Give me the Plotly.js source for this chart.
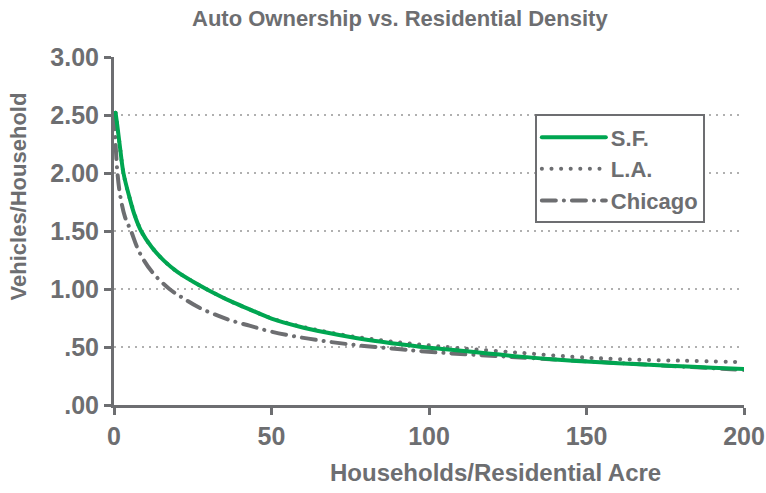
<!DOCTYPE html>
<html>
<head>
<meta charset="utf-8">
<script src="https://cdn.plot.ly/plotly-3.0.1.min.js"></script>
<style>
html,body{margin:0;padding:0;background:#fff;}
#chart{width:766px;height:493px;}
#chart .js-line{stroke-linecap:round;}
</style>
</head>
<body>
<div id="chart"></div>
<script>
// Data
const sfX = [0.5, 1, 2, 3, 5, 6.5, 8.6, 12, 16, 20, 25, 30, 37, 43, 50, 59, 67, 75, 83, 91, 97, 107, 118, 129, 140, 150, 160, 170, 180, 190, 200];
const sfY = [2.52, 2.42, 2.2, 2.0, 1.78, 1.64, 1.5, 1.36, 1.24, 1.15, 1.065, 0.99, 0.895, 0.825, 0.745, 0.675, 0.627, 0.586, 0.552, 0.523, 0.503, 0.477, 0.447, 0.417, 0.393, 0.374, 0.359, 0.346, 0.334, 0.322, 0.311];

const laX = [0.5, 1, 2, 3, 5, 8.6, 12, 16, 20, 25, 30, 37, 43, 50, 59, 67, 75, 83, 91, 97, 110, 129, 146, 160, 180, 200];
const laY = [2.52, 2.42, 2.2, 2.0, 1.78, 1.5, 1.36, 1.24, 1.15, 1.065, 0.99, 0.895, 0.825, 0.747, 0.679, 0.633, 0.594, 0.564, 0.538, 0.522, 0.49, 0.45, 0.415, 0.396, 0.382, 0.37];

const chX = [0.1, 0.5, 1.1, 2, 3.5, 5.4, 8, 12, 17.6, 22, 27, 33, 37, 43, 50, 59, 67, 75, 83, 91, 97, 107, 118, 129, 146, 160, 180, 200];
const chY = [2.5, 2.25, 2.0, 1.8, 1.62, 1.5, 1.32, 1.15, 1.0, 0.92, 0.84, 0.77, 0.73, 0.684, 0.632, 0.584, 0.55, 0.522, 0.5, 0.48, 0.465, 0.445, 0.427, 0.41, 0.383, 0.362, 0.332, 0.302];

const yTickVals = [0, 0.5, 1, 1.5, 2, 2.5, 3];
const yTickText = ['.00', '.50', '1.00', '1.50', '2.00', '2.50', '3.00'];
const xTickVals = [0, 50, 100, 150, 200];
const xTickText = ['0', '50', '100', '150', '200'];

const GRAY = '#6d6e71';
const FONT = '"Liberation Sans", Arial, sans-serif';

const traces = [
  {x: laX, y: laY, name: 'L.A.', mode: 'lines', line: {color: GRAY, width: 4, dash: '0.1px,9.5px', shape: 'spline'}, legendrank: 2},
  {x: chX, y: chY, name: 'Chicago', mode: 'lines', line: {color: GRAY, width: 4, dash: '14px,8px,0.1px,8px', shape: 'spline'}, legendrank: 3},
  {x: sfX, y: sfY, name: 'S.F.', mode: 'lines', line: {color: '#00a651', width: 4, shape: 'spline'}, legendrank: 1}
];

const layout = {
  width: 766, height: 493,
  margin: {l: 114, r: 22, t: 57, b: 88},
  paper_bgcolor: '#fff', plot_bgcolor: '#fff',
  font: {family: FONT, color: GRAY, size: 20, weight: 'bold'},
  title: {text: '<b>Auto Ownership vs. Residential Density</b>', x: 0.522, xref: 'container', xanchor: 'center', y: 1 - 18/493, yref: 'container', yanchor: 'middle', font: {family: FONT, size: 22, color: GRAY, weight: 'bold'}},
  showlegend: true,
  legend: {x: 0.668, y: 0.835, xanchor: 'left', yanchor: 'top', bgcolor: '#fff', bordercolor: GRAY, borderwidth: 2, font: {family: FONT, size: 22, color: GRAY, weight: 'bold'}, traceorder: 'normal', tracegroupgap: 0, itemwidth: 64},
  xaxis: {
    range: [0, 200], tickvals: xTickVals, ticktext: xTickText, ticklabeloverflow: 'allow',
    showline: true, linecolor: GRAY, linewidth: 3, ticks: 'outside', ticklen: 7, tickwidth: 3, tickcolor: GRAY,
    showgrid: false, zeroline: false, tickfont: {family: FONT, size: 25, color: GRAY, weight: 'bold'}, fixedrange: true
  },
  yaxis: {
    range: [0, 3], tickvals: yTickVals, ticktext: yTickText,
    showline: true, linecolor: GRAY, linewidth: 3, ticks: 'outside', ticklen: 7, tickwidth: 3, tickcolor: GRAY,
    showgrid: true, gridcolor: '#b0b0b0', gridwidth: 2, griddash: '2px,5px', zeroline: false,
    tickfont: {family: FONT, size: 25, color: GRAY, weight: 'bold'}, fixedrange: true
  },
  annotations: [
    {text: '<b>Vehicles/Household</b>', textangle: -90, xref: 'paper', yref: 'paper', x: -0.152, y: 0.6, xanchor: 'center', yanchor: 'middle', showarrow: false, font: {family: FONT, size: 22, color: GRAY, weight: 'bold'}},
    {text: '<b>Households/Residential Acre</b>', xref: 'paper', yref: 'paper', x: 0.605, y: -0.193, xanchor: 'center', yanchor: 'middle', showarrow: false, font: {family: FONT, size: 24, color: GRAY, weight: 'bold'}}
  ]
};

Plotly.newPlot('chart', traces, layout, {displayModeBar: false, staticPlot: true});
</script>
</body>
</html>
